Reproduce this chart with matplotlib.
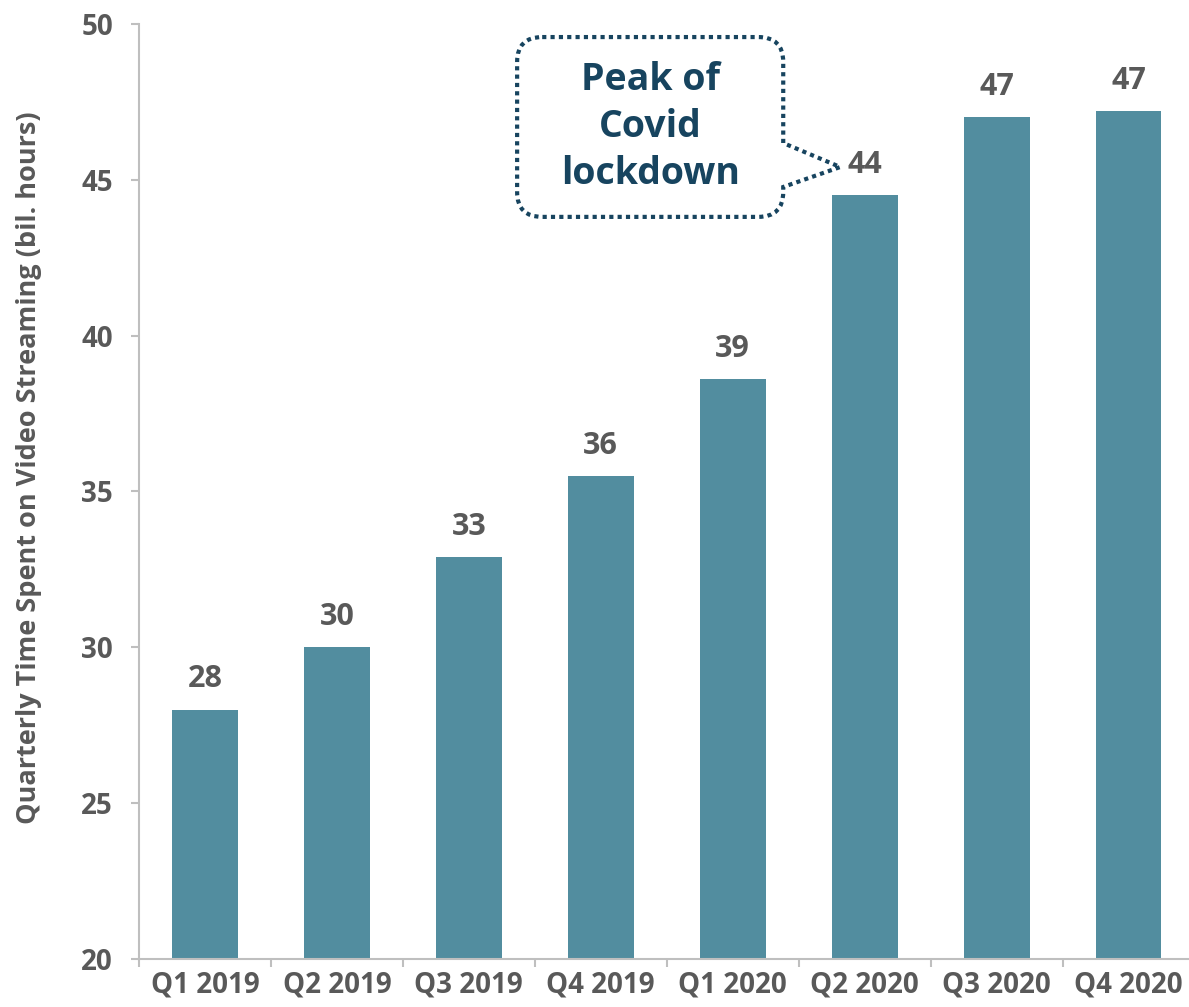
import matplotlib
matplotlib.use("Agg")
import matplotlib.pyplot as plt
from matplotlib.path import Path
from matplotlib.patches import PathPatch
import numpy as np

quarters = ["Q1 2019", "Q2 2019", "Q3 2019", "Q4 2019",
            "Q1 2020", "Q2 2020", "Q3 2020", "Q4 2020"]
hours_bn = [28.0, 30.0, 32.9, 35.5, 38.6, 44.5, 47.0, 47.2]
y_ticks = [20, 25, 30, 35, 40, 45, 50]

BAR = "#528D9F"
TEXT = "#595959"
AXIS = "#BFBFBF"
NAVY = "#17445F"

plt.rcParams["font.family"] = ["Open Sans", "DejaVu Sans"]
plt.rcParams["font.weight"] = "bold"

fig = plt.figure(figsize=(11.89, 10.07), dpi=100)
ax = fig.add_axes([0.1169, 0.0477, 0.8877, 0.9285])

x = np.arange(len(quarters))
bars = ax.bar(x, hours_bn, width=0.5, color=BAR, zorder=2)

for xi, v in zip(x, hours_bn):
    ax.annotate(f"{v:.0f}", (xi, v), xytext=(0, 16), textcoords="offset points",
                ha="center", va="baseline", fontsize=22, color=TEXT, fontweight="bold")

ax.set_xlim(-0.5, len(quarters) - 0.5)
ax.set_ylim(y_ticks[0], y_ticks[-1])
ax.set_yticks(y_ticks)
ax.set_xticks(x)
ax.set_xticklabels(quarters)
ax.set_xticks(np.arange(-0.5, len(quarters), 1.0), minor=True)

for s in ("top", "right"):
    ax.spines[s].set_visible(False)
for s in ("left", "bottom"):
    ax.spines[s].set_color(AXIS)
    ax.spines[s].set_linewidth(1.5)
    ax.spines[s].set_clip_on(False)

ax.tick_params(axis="x", which="major", length=0, pad=8, labelsize=20, labelcolor=TEXT)
ax.tick_params(axis="x", which="minor", length=5.8, width=1.5, color=AXIS)
ax.tick_params(axis="y", which="major", length=5.8, width=1.5, color=AXIS, pad=13,
               labelsize=20, labelcolor=TEXT)
ax.set_ylabel("Quarterly Time Spent on Video Streaming (bil. hours)",
              fontsize=19.5, color=TEXT, fontweight="bold", labelpad=28)
ax.yaxis.label.set_y(0.525)

# Speech-bubble callout pointing at the Q2 2020 label
x0, x1 = 2.366, 4.383
y0, y1 = 43.81, 49.58
rx, ry = 0.19, 0.8
tip = (4.815, 45.41)
tail_top, tail_bot = 46.18, 44.77
verts = [
    (x0 + rx, y1), (x1 - rx, y1), (x1, y1), (x1, y1 - ry),
    (x1, tail_top), tip, (x1, tail_bot),
    (x1, y0 + ry), (x1, y0), (x1 - rx, y0),
    (x0 + rx, y0), (x0, y0), (x0, y0 + ry),
    (x0, y1 - ry), (x0, y1), (x0 + rx, y1),
]
codes = [Path.MOVETO, Path.LINETO, Path.CURVE3, Path.CURVE3,
         Path.LINETO, Path.LINETO, Path.LINETO,
         Path.LINETO, Path.CURVE3, Path.CURVE3,
         Path.LINETO, Path.CURVE3, Path.CURVE3,
         Path.LINETO, Path.CURVE3, Path.CURVE3]
bubble = PathPatch(Path(verts, codes), facecolor="white", edgecolor=NAVY,
                   linewidth=3, linestyle=(0, (1, 1)), zorder=3)
ax.add_patch(bubble)
ax.text((x0 + x1) / 2, (y0 + y1) / 2, "Peak of\nCovid\nlockdown", ha="center",
        va="center", fontsize=27, color=NAVY, fontweight="bold", linespacing=1.3,
        zorder=4)

fig.savefig("out.png", dpi=100)
